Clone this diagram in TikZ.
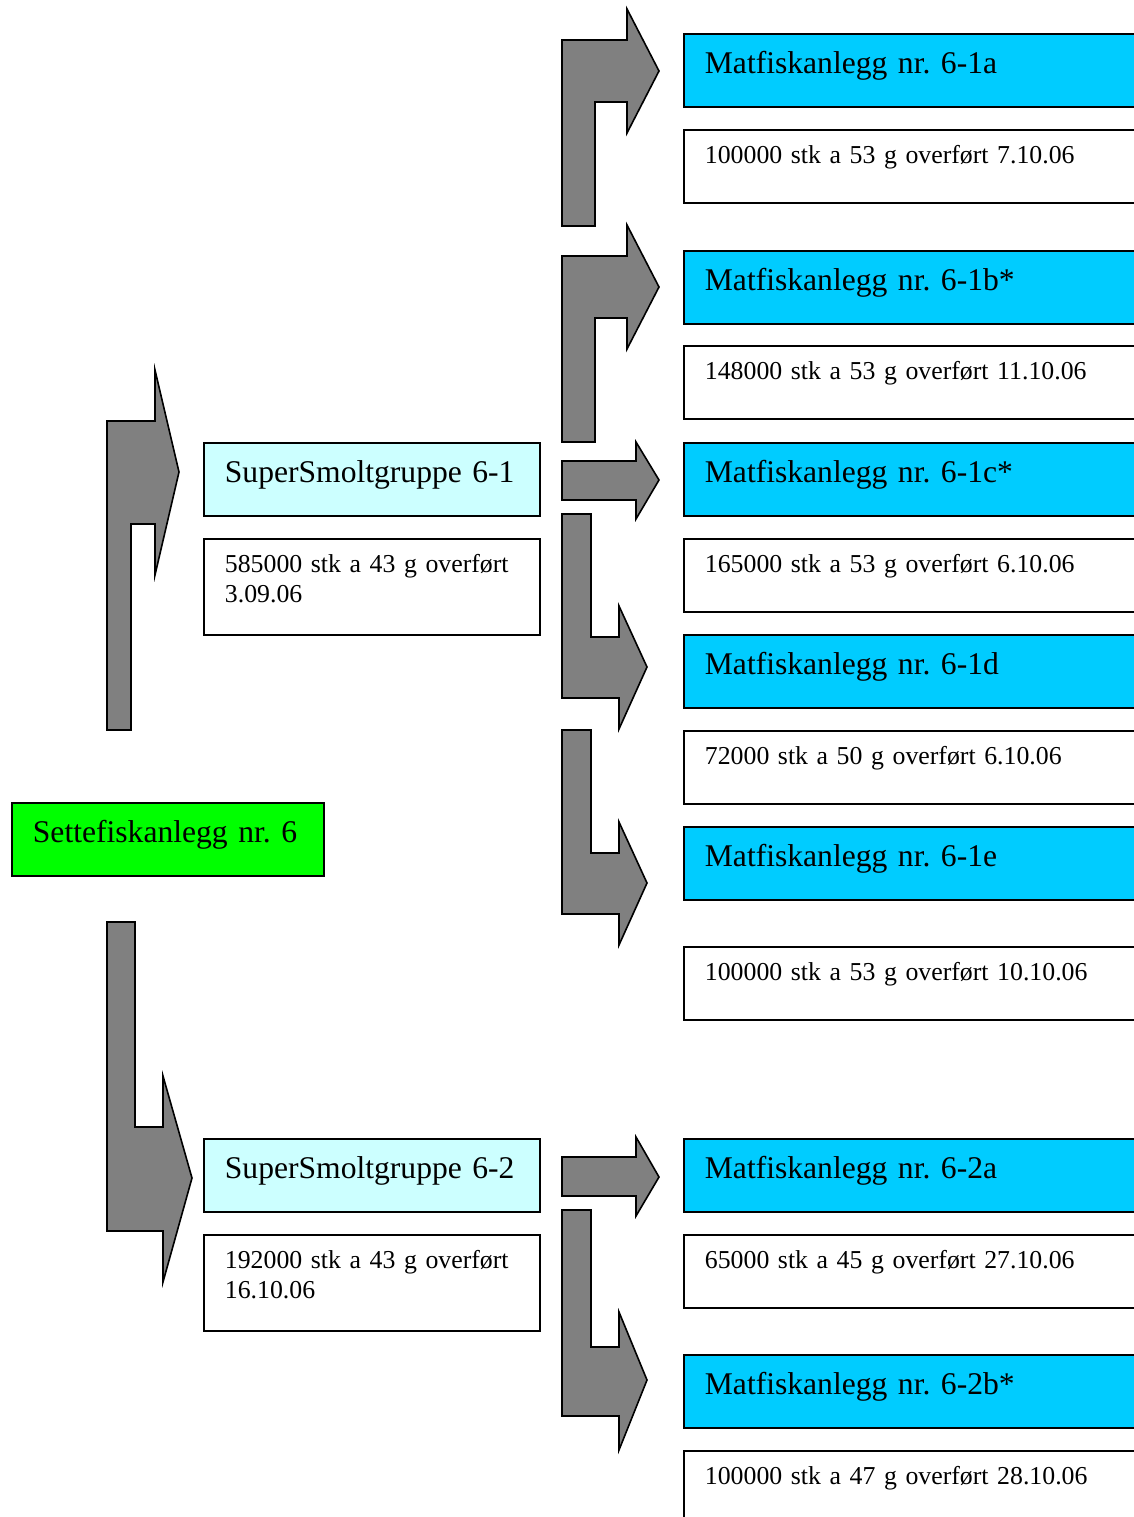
\documentclass[tikz,border=0pt]{standalone}
\usepackage{fontspec}
\setmainfont{Liberation Serif}
\frenchspacing
\definecolor{settegreen}{RGB}{0,255,0}
\definecolor{smoltcyan}{RGB}{204,255,255}
\definecolor{matblue}{RGB}{0,204,255}
\definecolor{arrowgray}{RGB}{128,128,128}
\tikzset{
  BoxStyle/.style = { draw, line width = 0.9pt, anchor = north west,
                      inner xsep = 10.5pt, inner ysep = 0pt, align = left },
  HeadStyle/.style = { BoxStyle, font = \fontsize{15.8}{19}\selectfont,
                       text height = 20pt, text depth = 16.5pt },
  InfoStyle/.style = { BoxStyle, fill = white, font = \fontsize{12.9}{15}\selectfont,
                       text height = 17pt, text depth = 19.5pt },
  ArrowStyle/.style = { draw, fill = arrowgray, line width = 0.8pt, line join = miter } }

\begin{document}
\begin{tikzpicture}[x=0.5pt,y=-0.5pt]
  \useasboundingbox (0,0) rectangle (1134,1517);

  % settefisk
  \node[HeadStyle, fill = settegreen, text width = 135pt] (sette) at (11,802) {Settefiskanlegg nr. 6};

  % supersmolt groups
  \node[HeadStyle, fill = smoltcyan, text width = 147pt] (smolt1) at (203,442) {SuperSmoltgruppe 6-1};
  \node[InfoStyle, text width = 147pt, text depth = 31pt] (smolt1info) at (203,538) {585000 stk a 43 g overført\\3.09.06};
  \node[HeadStyle, fill = smoltcyan, text width = 147pt] (smolt2) at (203,1138) {SuperSmoltgruppe 6-2};
  \node[InfoStyle, text width = 147pt, text depth = 31pt] (smolt2info) at (203,1234) {192000 stk a 43 g overført\\16.10.06};

  % matfisk
  \tikzset{ HeadStyle/.append style = { fill = matblue, text width = 212.5pt },
            InfoStyle/.append style = { text width = 212.5pt } }
  \node[HeadStyle] (mat1a) at (683,33) {Matfiskanlegg nr. 6-1a};
  \node[InfoStyle] (mat1ainfo) at (683,129) {100000 stk a 53 g overført 7.10.06};
  \node[HeadStyle] (mat1b) at (683,250) {Matfiskanlegg nr. 6-1b*};
  \node[InfoStyle] (mat1binfo) at (683,345) {148000 stk a 53 g overført 11.10.06};
  \node[HeadStyle] (mat1c) at (683,442) {Matfiskanlegg nr. 6-1c*};
  \node[InfoStyle] (mat1cinfo) at (683,538) {165000 stk a 53 g overført 6.10.06};
  \node[HeadStyle] (mat1d) at (683,634) {Matfiskanlegg nr. 6-1d};
  \node[InfoStyle] (mat1dinfo) at (683,730) {72000 stk a 50 g overført 6.10.06};
  \node[HeadStyle] (mat1e) at (683,826) {Matfiskanlegg nr. 6-1e};
  \node[InfoStyle] (mat1einfo) at (683,946) {100000 stk a 53 g overført 10.10.06};
  \node[HeadStyle] (mat2a) at (683,1138) {Matfiskanlegg nr. 6-2a};
  \node[InfoStyle] (mat2ainfo) at (683,1234) {65000 stk a 45 g overført 27.10.06};
  \node[HeadStyle] (mat2b) at (683,1354) {Matfiskanlegg nr. 6-2b*};
  \node[InfoStyle] (mat2binfo) at (683,1450) {100000 stk a 47 g overført 28.10.06};

  % block arrows, left
  \draw[ArrowStyle] (107,730) -- (107,421) -- (155,421) -- (155,370) -- (179,472)
    -- (155,575) -- (155,524) -- (131,524) -- (131,730) -- cycle;
  \draw[ArrowStyle] (107,922) -- (135,922) -- (135,1127) -- (163,1127) -- (163,1076)
    -- (192,1178) -- (163,1282) -- (163,1231) -- (107,1231) -- cycle;

  % block arrows, right
  \draw[ArrowStyle] (562,226) -- (562,40) -- (627,40) -- (627,9) -- (659,71)
    -- (627,133) -- (627,102) -- (595,102) -- (595,226) -- cycle;
  \draw[ArrowStyle] (562,442) -- (562,256) -- (627,256) -- (627,225) -- (659,287)
    -- (627,349) -- (627,318) -- (595,318) -- (595,442) -- cycle;
  \draw[ArrowStyle] (562,461) -- (636,461) -- (636,442) -- (659,480)
    -- (636,519) -- (636,500) -- (562,500) -- cycle;
  \draw[ArrowStyle] (562,514) -- (591,514) -- (591,637) -- (619,637) -- (619,606)
    -- (647,667) -- (619,729) -- (619,698) -- (562,698) -- cycle;
  \draw[ArrowStyle] (562,730) -- (591,730) -- (591,853) -- (619,853) -- (619,822)
    -- (647,883) -- (619,945) -- (619,914) -- (562,914) -- cycle;
  \draw[ArrowStyle] (562,1157) -- (636,1157) -- (636,1137) -- (659,1177)
    -- (636,1216) -- (636,1196) -- (562,1196) -- cycle;
  \draw[ArrowStyle] (562,1210) -- (591,1210) -- (591,1347) -- (619,1347) -- (619,1312)
    -- (647,1380) -- (619,1450) -- (619,1416) -- (562,1416) -- cycle;
\end{tikzpicture}
\end{document}
